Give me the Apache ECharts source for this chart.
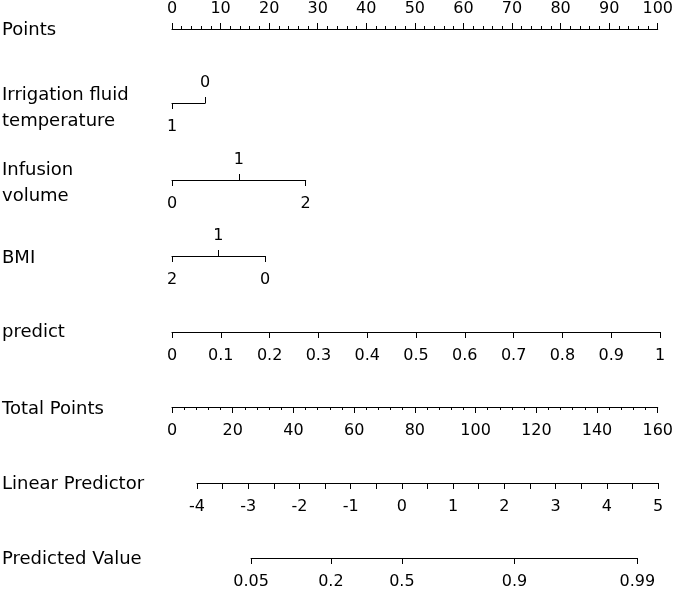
<!DOCTYPE html>
<html>
<head>
<meta charset="utf-8">
<script src="https://cdn.jsdelivr.net/npm/echarts@6/dist/echarts.min.js"></script>
<style>
  html, body { margin: 0; padding: 0; background: #fff; }
  #main { width: 676px; height: 590px; }
</style>
</head>
<body>
<div id="main"></div>
<script>
// 分类变量：水平 + 对应分值
const irrigationLevels = ['1', '0'];
const irrigationPoints = [0, 6.8];
const infusionLevels = ['0', '1', '2'];
const infusionPoints = [0, 13.7, 27.4];
const bmiLevels = ['2', '1', '0'];
const bmiPoints = [0, 9.5, 19.1];
// 连续轴
const pointsRange = [0, 100];
const predictRange = [0, 1];
const totalPointsRange = [0, 160];
const linearPredictorRange = [-4, 5];
const predictedValues = [0.05, 0.2, 0.5, 0.9, 0.99];

const rowTitles = ['Points', 'Irrigation fluid\ntemperature', 'Infusion\nvolume', 'BMI',
  'predict', 'Total Points', 'Linear Predictor', 'Predicted Value'];

// 布局
const plotLeft = 172, plotWidth = 488;
const rowY = [28, 103, 180, 256, 332, 407, 483, 558];
const titleShift = [2, 5, 3, 2, 0, 2, 1, 1];
const lpLeft = 197, lpRight = 658;
const fontFamily = 'DejaVu Sans';
const black = '#000';

const pxOfPoints = p => plotLeft + (p - pointsRange[0]) / (pointsRange[1] - pointsRange[0]) * plotWidth;
const logit = p => Math.log(p / (1 - p));
const pxOfLp = v => lpLeft + (v - linearPredictorRange[0]) /
  (linearPredictorRange[1] - linearPredictorRange[0]) * (lpRight - lpLeft);

let grids = [], xAxes = [], yAxes = [];

const baseAxis = (gi, pos, min, max) => ({
  type: 'value',
  gridIndex: gi,
  position: pos,
  min: min,
  max: max,
  axisLine: { show: true, lineStyle: { color: black, width: 1 } },
  axisTick: { show: true, length: 6, lineStyle: { color: black, width: 1 } },
  axisLabel: { color: black, fontFamily: fontFamily, fontSize: 16,
    margin: pos === 'top' ? 11 : 16,
    showMinLabel: true, showMaxLabel: true },
  splitLine: { show: false }
});

const addGrid = (left, width, top) => {
  grids.push({ left: left, width: width, top: top, height: 1 });
  yAxes.push({ type: 'value', gridIndex: grids.length - 1, show: false, min: 0, max: 1 });
  return grids.length - 1;
};

// Points
let g = addGrid(plotLeft, plotWidth, rowY[0]);
xAxes.push(Object.assign(baseAxis(g, 'top', pointsRange[0], pointsRange[1]), {
  interval: 10,
  minorTick: { show: true, splitNumber: 5, length: 3, lineStyle: { color: black } }
}));

// 分类变量行
const addCategorical = (levels, pts, y) => {
  let lo = Math.min(...pts), hi = Math.max(...pts);
  let gi = addGrid(pxOfPoints(lo), pxOfPoints(hi) - pxOfPoints(lo), y - 1);
  let upper = pts.filter((p, i) => i % 2 === 1);
  let lower = pts.filter((p, i) => i % 2 === 0);
  let fmt = v => {
    let k = pts.findIndex(p => Math.abs(p - v) < 1e-6);
    return k >= 0 ? levels[k] : '';
  };
  let top = baseAxis(gi, 'top', lo, hi);
  top.axisLine.show = false;
  top.axisTick.customValues = upper;
  top.axisLabel.customValues = upper;
  top.axisLabel.formatter = fmt;
  let bottom = baseAxis(gi, 'bottom', lo, hi);
  bottom.axisTick.customValues = lower;
  bottom.axisLabel.customValues = lower;
  bottom.axisLabel.formatter = fmt;
  xAxes.push(top, bottom);
};
addCategorical(irrigationLevels, irrigationPoints, rowY[1]);
addCategorical(infusionLevels, infusionPoints, rowY[2]);
addCategorical(bmiLevels, bmiPoints, rowY[3]);

// predict
g = addGrid(plotLeft, plotWidth, rowY[4] - 1);
xAxes.push(Object.assign(baseAxis(g, 'bottom', predictRange[0], predictRange[1]), { interval: 0.1 }));

// Total Points
g = addGrid(plotLeft, plotWidth, rowY[5] - 1);
xAxes.push(Object.assign(baseAxis(g, 'bottom', totalPointsRange[0], totalPointsRange[1]), {
  interval: 20,
  minorTick: { show: true, splitNumber: 5, length: 3, lineStyle: { color: black } }
}));

// Linear Predictor
g = addGrid(lpLeft, lpRight - lpLeft, rowY[6] - 1);
xAxes.push(Object.assign(baseAxis(g, 'bottom', linearPredictorRange[0], linearPredictorRange[1]), {
  interval: 1,
  minorTick: { show: true, splitNumber: 2, length: 6, lineStyle: { color: black } }
}));

// Predicted Value（logit 刻度）
let pvLogit = predictedValues.map(logit);
let pvLo = pvLogit[0], pvHi = pvLogit[pvLogit.length - 1];
g = addGrid(pxOfLp(pvLo), pxOfLp(pvHi) - pxOfLp(pvLo), rowY[7] - 1);
let pvAxis = baseAxis(g, 'bottom', pvLo, pvHi);
pvAxis.axisTick.customValues = pvLogit;
pvAxis.axisLabel.customValues = pvLogit;
pvAxis.axisLabel.formatter = v => {
  let k = pvLogit.findIndex(p => Math.abs(p - v) < 1e-6);
  return k >= 0 ? String(predictedValues[k]) : '';
};
xAxes.push(pvAxis);

// 行标题
let titles = rowTitles.map((t, i) => ({
  type: 'text',
  x: 2,
  y: rowY[i] + titleShift[i],
  style: {
    text: t,
    font: '18px "' + fontFamily + '"',
    fill: black,
    verticalAlign: 'middle',
    lineHeight: 26
  }
}));

let myChart = echarts.init(document.getElementById('main'));
let option = {
  backgroundColor: '#fff',
  animation: false,
  grid: grids,
  xAxis: xAxes,
  yAxis: yAxes,
  graphic: titles,
  series: []
};
myChart.setOption(option);
</script>
</body>
</html>
